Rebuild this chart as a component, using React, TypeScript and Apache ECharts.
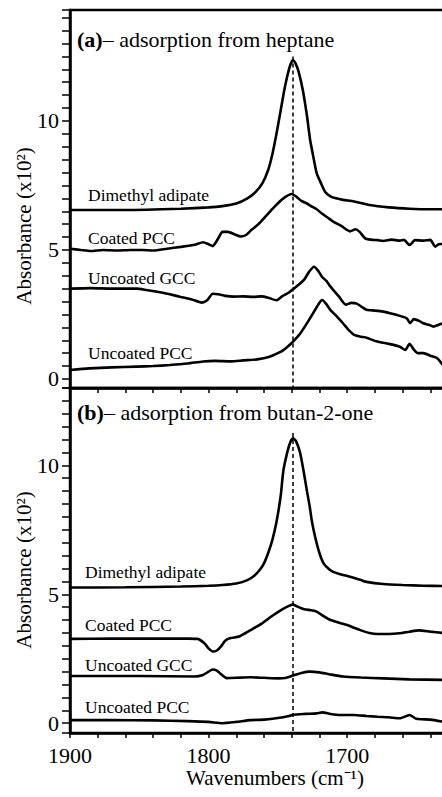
import React, { useEffect, useRef } from 'react';
import * as echarts from 'echarts';

// ---------- data ----------
const xTickLabels = [1900, 1800, 1700];
const yTickLabels = [0, 5, 10];
const peakWavenumber = 1739;
const seriesNames = ['Dimethyl adipate', 'Coated PCC', 'Uncoated GCC', 'Uncoated PCC'];
const panelLetters = ['(a)', '(b)'];
const panelTitles = ['– adsorption from heptane', '– adsorption from butan-2-one'];
const yAxisName = 'Absorbance (x10²)';
const xAxisName = 'Wavenumbers (cm⁻¹)';

// panel (a): adsorption from heptane  [wavenumber, absorbance x10^2]
const dimethylHeptane: [number, number][] = [
  [1900, 6.55], [1860, 6.55], [1820, 6.6], [1800, 6.65], [1790, 6.7], [1780, 6.8], [1772, 7.0], [1766, 7.25],
  [1761, 7.6], [1757, 8.1], [1754, 8.7], [1751, 9.5], [1748, 10.4], [1745, 11.3], [1742, 12.0], [1740, 12.3],
  [1739, 12.35], [1737, 12.2], [1735, 11.9], [1732, 11.2], [1729, 10.2], [1726.7, 9.26], [1724, 8.5], [1722, 7.98],
  [1719, 7.6], [1716, 7.26], [1712, 7.08], [1708, 7.0], [1703, 6.94], [1695, 6.88], [1684, 6.74], [1670, 6.65],
  [1655, 6.6], [1640, 6.58], [1631, 6.58],
];
const coatedPccHeptane: [number, number][] = [
  [1900, 5.05], [1892, 5.0], [1885, 4.96], [1876, 5.0], [1866, 4.98], [1856, 5.0], [1848, 5.0], [1840, 4.98],
  [1830, 5.05], [1820, 5.12], [1810, 5.2], [1804, 5.3], [1800, 5.22], [1797, 5.15], [1793, 5.45], [1790, 5.7],
  [1786, 5.7], [1781, 5.6], [1777, 5.52], [1773, 5.58], [1769, 5.78], [1764, 6.0], [1758, 6.35], [1752, 6.7],
  [1746, 7.0], [1740, 7.17], [1737, 7.08], [1733, 6.9], [1729, 6.8], [1726, 6.7], [1722, 6.58], [1718, 6.4],
  [1714, 6.25], [1710, 6.1], [1704, 5.92], [1698, 5.72], [1694, 5.8], [1691, 5.7], [1687, 5.45], [1683, 5.4],
  [1678, 5.38], [1674, 5.35], [1668, 5.4], [1662, 5.36], [1659, 5.39], [1655, 5.19], [1651, 5.38], [1645, 5.36],
  [1640, 5.39], [1636.5, 5.13], [1634, 5.22], [1631, 5.23],
];
const uncoatedGccHeptane: [number, number][] = [
  [1900, 3.5], [1885, 3.52], [1870, 3.5], [1852, 3.5], [1845, 3.45], [1837, 3.38], [1828, 3.28], [1820, 3.18],
  [1812, 3.08], [1805, 2.96], [1801, 3.05], [1797, 3.3], [1793, 3.28], [1788, 3.22], [1782, 3.19], [1775, 3.2],
  [1768, 3.18], [1762, 3.2], [1757, 3.15], [1751, 3.05], [1747, 3.2], [1742, 3.35], [1739, 3.48], [1735, 3.65],
  [1731, 3.85], [1727.5, 4.15], [1724, 4.35], [1721, 4.2], [1718, 3.95], [1715, 3.8], [1712, 3.58], [1706, 3.2],
  [1701, 2.88], [1697, 2.95], [1693, 2.92], [1689, 2.78], [1686, 2.68], [1680, 2.65], [1674, 2.61], [1669, 2.55],
  [1664, 2.48], [1657, 2.35], [1654.5, 2.16], [1652, 2.32], [1648, 2.25], [1645, 2.16], [1641, 2.1], [1637.7, 2.03],
  [1634, 2.1], [1631, 2.16],
];
const uncoatedPccHeptane: [number, number][] = [
  [1900, 0.35], [1886, 0.41], [1870, 0.45], [1852, 0.48], [1840, 0.5], [1828, 0.54], [1815, 0.6], [1804, 0.68],
  [1795, 0.7], [1784, 0.68], [1775, 0.72], [1765, 0.76], [1756, 0.86], [1750, 1.0], [1746, 1.12], [1742, 1.3],
  [1739, 1.45], [1734, 1.75], [1729, 2.16], [1724, 2.6], [1720, 2.95], [1718, 3.06], [1715, 2.9], [1712, 2.67],
  [1707, 2.4], [1703, 2.16], [1699, 1.9], [1695, 1.71], [1690, 1.64], [1686, 1.6], [1679, 1.46], [1669, 1.35],
  [1662, 1.25], [1658, 1.12], [1655, 1.36], [1652, 1.15], [1649, 1.0], [1645, 1.0], [1640, 0.9], [1635, 0.8],
  [1631, 0.54],
];

// panel (b): adsorption from butan-2-one
const dimethylButanone: [number, number][] = [
  [1900, 5.26], [1860, 5.27], [1820, 5.3], [1800, 5.33], [1790, 5.36], [1780, 5.42], [1772, 5.55], [1767, 5.72],
  [1763, 5.95], [1760, 6.2], [1757, 6.6], [1754, 7.1], [1751, 7.8], [1748, 8.8], [1746, 9.8], [1743, 10.55],
  [1741, 10.9], [1739, 11.05], [1737, 10.95], [1734, 10.5], [1731.5, 9.8], [1729, 9.0], [1727, 8.4], [1725.5, 7.85],
  [1723, 7.2], [1720, 6.6], [1717, 6.2], [1713, 5.97], [1710, 5.87], [1705, 5.78], [1698, 5.68], [1690, 5.55],
  [1686, 5.48], [1674, 5.4], [1660, 5.36], [1645, 5.33], [1631, 5.32],
];
const coatedPccButanone: [number, number][] = [
  [1900, 3.27], [1870, 3.28], [1840, 3.28], [1815, 3.28], [1808, 3.27], [1803, 3.1], [1800, 2.9], [1797, 2.78],
  [1794, 2.82], [1791, 2.98], [1788, 3.2], [1784, 3.3], [1778, 3.36], [1770, 3.6], [1762, 3.85], [1755, 4.13],
  [1748, 4.38], [1742, 4.55], [1739, 4.6], [1735, 4.5], [1731, 4.42], [1726, 4.38], [1722, 4.33], [1717, 4.15],
  [1712, 4.0], [1706, 3.9], [1700, 3.81], [1695, 3.7], [1690, 3.6], [1684, 3.5], [1678, 3.46], [1670, 3.46],
  [1662, 3.49], [1655, 3.55], [1648, 3.6], [1640, 3.55], [1631, 3.5],
];
const uncoatedGccButanone: [number, number][] = [
  [1900, 1.83], [1850, 1.83], [1810, 1.81], [1804, 1.87], [1800, 2.0], [1797, 2.08], [1794, 2.04], [1791, 1.9],
  [1787, 1.75], [1780, 1.76], [1770, 1.78], [1760, 1.76], [1750, 1.74], [1745, 1.75], [1739, 1.85], [1733, 1.95],
  [1727, 2.0], [1720, 1.97], [1713, 1.9], [1703, 1.81], [1690, 1.77], [1674, 1.74], [1655, 1.7], [1631, 1.68],
];
const uncoatedPccButanone: [number, number][] = [
  [1900, 0.12], [1870, 0.12], [1840, 0.11], [1815, 0.08], [1800, 0.05], [1790, 0.0], [1780, 0.05], [1770, 0.12],
  [1760, 0.14], [1750, 0.2], [1742, 0.28], [1739, 0.33], [1730, 0.36], [1722, 0.38], [1718, 0.42], [1712, 0.36],
  [1705, 0.32], [1695, 0.32], [1686, 0.28], [1678, 0.25], [1670, 0.23], [1662, 0.19], [1655, 0.32], [1650, 0.17],
  [1640, 0.14], [1631, 0.06],
];

const panelSeries = [
  [dimethylHeptane, coatedPccHeptane, uncoatedGccHeptane, uncoatedPccHeptane],
  [dimethylButanone, coatedPccButanone, uncoatedGccButanone, uncoatedPccButanone],
];
const yRanges = [[-0.35, 14.3], [-0.38, 13.0]];
const dashTops = [12.5, 11.25];

// ---------- layout / style ----------
const FONT = '"Liberation Serif", "Times New Roman", serif';
const gridTops = [10, 388];
const gridHeights = [378, 345];
const labelYs = [
  [195, 238, 278, 352.5],
  [571.5, 625, 665, 706.5],
];
const labelXs = [88, 85];
const titleYs = [39, 412];
const yNameYs = [226, 570];

export default function App() {
  const ref = useRef<HTMLDivElement>(null);

  useEffect(() => {
    if (!ref.current) return;
    const chart = echarts.init(ref.current, undefined, { renderer: 'svg' });

    const isLabel = (v: number, list: number[]) => list.some((t) => Math.abs(t - v) < 1e-6);

    const xAxes = [0, 1].map((i) => ({
      type: 'value',
      gridIndex: i,
      min: 1620,
      max: 1900,
      interval: 20,
      inverse: true,
      axisLine: { show: true, onZero: false, lineStyle: { color: '#000', width: 2.5 } },
      axisTick: { show: true, inside: false, length: 5, lineStyle: { color: '#000', width: 1.5 } },
      axisLabel: {
        show: i === 1,
        formatter: (v: number) => (isLabel(v, xTickLabels) ? String(v) : ''),
        fontFamily: FONT,
        fontSize: 22,
        color: '#000',
        margin: 11,
      },
      splitLine: { show: false },
    }));

    const yAxes = [0, 1].map((i) => ({
      type: 'value',
      gridIndex: i,
      min: yRanges[i][0],
      max: yRanges[i][1],
      minInterval: 0.5,
      maxInterval: 0.5,
      axisLine: { show: true, onZero: false, lineStyle: { color: '#000', width: 2.5 } },
      axisTick: { show: true, inside: false, length: 8, lineStyle: { color: '#000', width: 1.5 } },
      axisLabel: {
        formatter: (v: number) => (isLabel(v, yTickLabels) ? String(v) : ''),
        fontFamily: FONT,
        fontSize: 22,
        color: '#000',
        margin: 11,
      },
      splitLine: { show: false },
    }));

    const series: any[] = [];
    panelSeries.forEach((list, p) => {
      list.forEach((data, s) => {
        series.push({
          type: 'line',
          name: seriesNames[s] + (p === 0 ? ' (heptane)' : ' (butan-2-one)'),
          xAxisIndex: p,
          yAxisIndex: p,
          data,
          showSymbol: false,
          symbol: 'none',
          smooth: 0.2,
          lineStyle: { color: '#000', width: 2.6 },
          z: 3,
          markLine:
            s === 0
              ? {
                  silent: true,
                  symbol: ['none', 'none'],
                  label: { show: false },
                  lineStyle: { color: '#000', width: 1.5, type: [4, 3] },
                  data: [[{ coord: [peakWavenumber, dashTops[p]] }, { coord: [peakWavenumber, yRanges[p][0]] }]],
                }
              : undefined,
        });
      });
    });

    const graphics: any[] = [];
    [0, 1].forEach((p) => {
      graphics.push({
        type: 'text',
        x: 77,
        y: titleYs[p],
        style: {
          text: `{b|${panelLetters[p]}}{n|${panelTitles[p]}}`,
          rich: {
            b: { fontFamily: FONT, fontSize: 22, fontWeight: 'bold', fill: '#000', color: '#000' },
            n: { fontFamily: FONT, fontSize: 22, fill: '#000', color: '#000' },
          },
          fill: '#000',
          textAlign: 'left',
          textVerticalAlign: 'middle',
        },
      });
      seriesNames.forEach((name, s) => {
        graphics.push({
          type: 'text',
          x: labelXs[p],
          y: labelYs[p][s],
          style: {
            text: name,
            fontFamily: FONT,
            fontSize: 17.5,
            fill: '#000',
            textAlign: 'left',
            textVerticalAlign: 'middle',
          },
        });
      });
      graphics.push({
        type: 'text',
        x: 24,
        y: yNameYs[p],
        rotation: Math.PI / 2,
        style: {
          text: yAxisName,
          fontFamily: FONT,
          fontSize: 21,
          fill: '#000',
          textAlign: 'center',
          textVerticalAlign: 'middle',
        },
      });
    });
    graphics.push({
      type: 'text',
      x: 275,
      y: 778,
      style: {
        text: xAxisName,
        fontFamily: FONT,
        fontSize: 21,
        fill: '#000',
        textAlign: 'center',
        textVerticalAlign: 'middle',
      },
    });

    chart.setOption({
      animation: false,
      backgroundColor: '#fff',
      grid: [0, 1].map((i) => ({
        left: 70,
        top: gridTops[i],
        width: 388,
        height: gridHeights[i],
        show: true,
        borderColor: '#000',
        borderWidth: 2.5,
        backgroundColor: 'transparent',
        containLabel: false,
        outerBoundsMode: 'none',
      })),
      xAxis: xAxes,
      yAxis: yAxes,
      series,
      graphic: graphics,
    });

    return () => chart.dispose();
  }, []);

  return (
    <div
      ref={ref}
      style={{ position: 'fixed', left: 0, top: 0, width: 442, height: 797, background: '#fff' }}
    />
  );
}
